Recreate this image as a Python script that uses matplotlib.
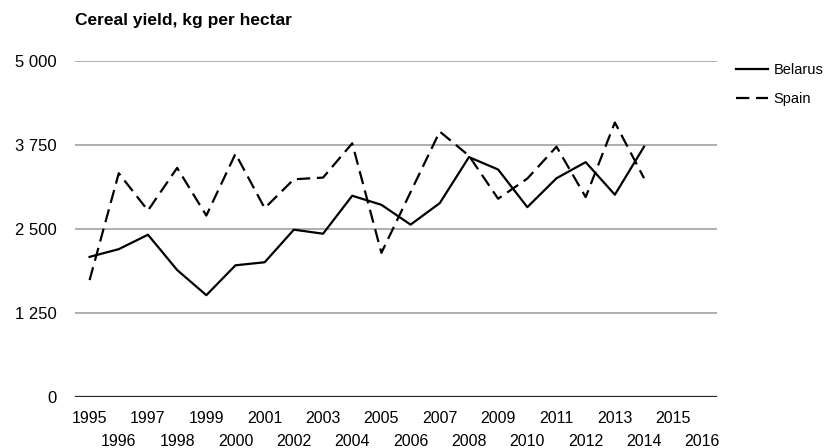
import matplotlib.pyplot as plt
from matplotlib.ticker import FixedLocator, FuncFormatter

plt.rcParams['font.family'] = ['Liberation Sans', 'DejaVu Sans']

# years on the category axis (data only up to 2014)
years = list(range(1995, 2017))
belarus = [2085, 2200, 2415, 1890, 1515, 1960, 2005, 2490, 2430, 2995,
           2860, 2565, 2885, 3570, 3385, 2825, 3255, 3495, 3010, 3725]
spain = [1740, 3330, 2775, 3410, 2700, 3620, 2810, 3240, 3265, 3775,
         2145, 3050, 3950, 3590, 2950, 3250, 3725, 2975, 4085, 3255]
yticks = [0, 1250, 2500, 3750, 5000]

fig = plt.figure(figsize=(8.34, 4.48), dpi=100)
ax = fig.add_axes([75 / 834, 1 - 397 / 448, 642 / 834, 336 / 448])

x = list(range(len(belarus)))
ax.plot(x, belarus, color='black', lw=1.6, label='Belarus')
ax.plot(x, spain, color='black', lw=1.6, dashes=(6, 3), label='Spain')

ax.set_xlim(-0.5, len(years) - 0.5)
ax.set_ylim(0, 5000)

# gridlines
for v in yticks[1:]:
    ax.axhline(v, color='#a8a8a8', lw=1.3, zorder=0)
ax.axhline(0, color='#222222', lw=1.6, zorder=0)

for s in ax.spines.values():
    s.set_visible(False)

ax.set_yticks(yticks)
ax.yaxis.set_major_formatter(FuncFormatter(lambda v, p: f'{int(v):,}'.replace(',', ' ')))
ax.tick_params(axis='y', length=0, pad=13, labelsize=12)

# staggered year labels
odd = [i for i in range(len(years)) if i % 2 == 0]
even = [i for i in range(len(years)) if i % 2 == 1]
ax.xaxis.set_major_locator(FixedLocator(odd))
ax.xaxis.set_minor_locator(FixedLocator(even))
ax.set_xticklabels([str(years[i]) for i in odd])
ax.set_xticklabels([str(years[i]) for i in even], minor=True)
ax.tick_params(axis='x', which='major', length=0, pad=10, labelsize=11.5)
ax.tick_params(axis='x', which='minor', length=0, pad=26.5, labelsize=11.5)

fig.text(75 / 834, 1 - 21 / 448, 'Cereal yield, kg per hectar', fontsize=12.5,
         fontweight='bold', va='center', ha='left')

ax.legend(loc='upper left', bbox_to_anchor=(1.02, 1.01), frameon=False,
          fontsize=10.5, handlelength=2.2, handletextpad=0.4, labelspacing=1.0,
          borderaxespad=0)

fig.savefig('out.png', dpi=100)
